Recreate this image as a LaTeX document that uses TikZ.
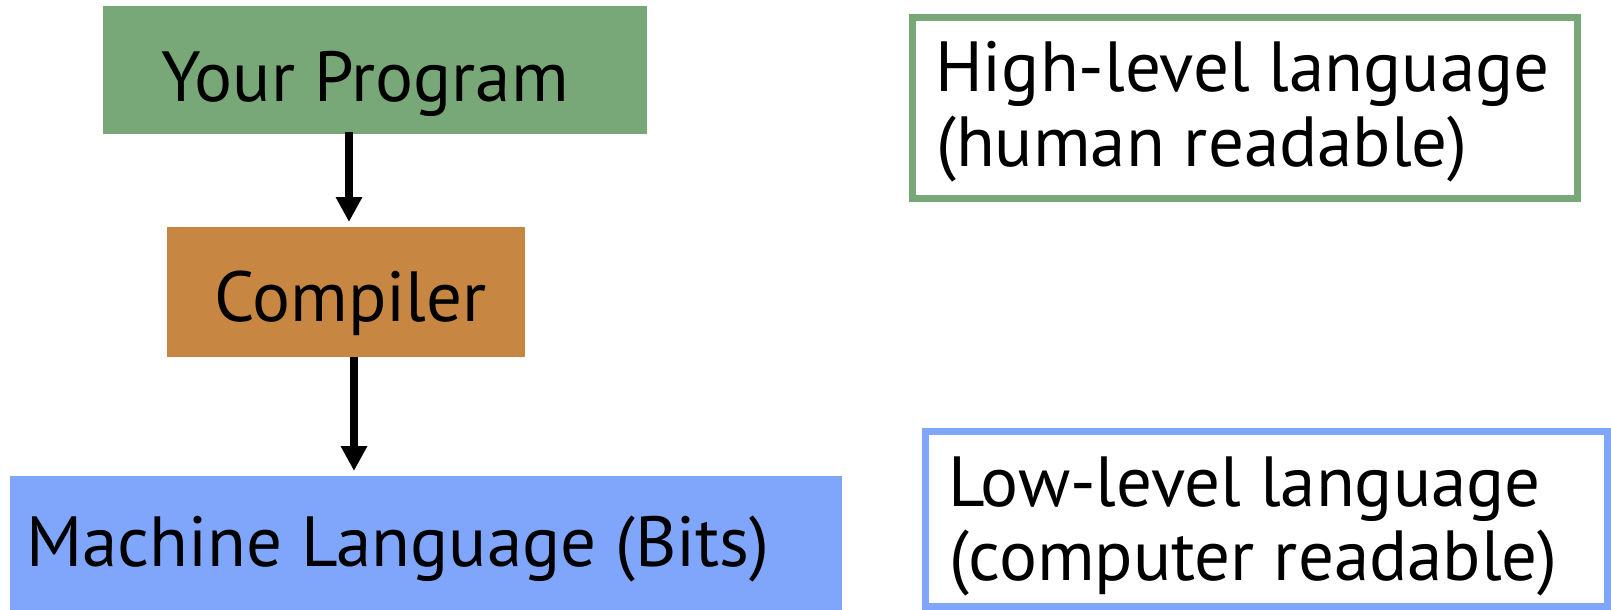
\documentclass[tikz,border=0pt]{standalone}
\usepackage{fontspec}
\setmainfont{PT Sans}
\usetikzlibrary{arrows.meta}
\definecolor{progGreen}{RGB}{120,168,120}
\definecolor{compOrange}{RGB}{199,134,66}
\definecolor{bitsBlue}{RGB}{127,166,250}
\begin{document}
\begin{tikzpicture}[x=1pt,y=-1pt,
  fillbox/.style={rectangle, inner sep=0pt, outer sep=0pt, draw=none},
  framebox/.style={rectangle, inner sep=0pt, outer sep=0pt, line width=7pt, fill=white},
  lbl/.style={anchor=base west, inner sep=0pt, font=\fontsize{71}{74}\selectfont},
  flow/.style={line width=7.5pt, -{Triangle[width=25pt,length=25pt]}}]
\useasboundingbox (0,0) rectangle (1611,610);
% flow boxes
\node[fillbox, fill=progGreen, minimum width=544pt, minimum height=128pt] (prog) at (375,70) {};
\node[fillbox, fill=compOrange, minimum width=358pt, minimum height=130pt] (comp) at (346,291.5) {};
\node[fillbox, fill=bitsBlue, minimum width=832pt, minimum height=134pt] (bits) at (426,543) {};
% legend frames
\node[framebox, draw=progGreen, minimum width=665pt, minimum height=181pt] (high) at (1245,108) {};
\node[framebox, draw=bitsBlue, minimum width=682pt, minimum height=175pt] (low) at (1266.5,519) {};
% labels
\node[lbl] (tprog) at (161,101) {Your Program};
\node[lbl] (tcomp) at (214,321) {Compiler};
\node[lbl] (tbits) at (26,566) {Machine Language (Bits)};
\node[lbl] (thigh1) at (935,92) {High-level language};
\node[lbl] (thigh2) at (936,166) {(human readable)};
\node[lbl] (tlow1) at (948,506) {Low-level language};
\node[lbl] (tlow2) at (949,580) {(computer readable)};
% arrows
\draw[flow] ([xshift=-26pt,yshift=2pt]prog.south) -- ([xshift=3pt,yshift=4.5pt]comp.north);
\draw[flow] ([xshift=8pt]comp.south) -- ([xshift=-72pt,yshift=5pt]bits.north);
\end{tikzpicture}
\end{document}
